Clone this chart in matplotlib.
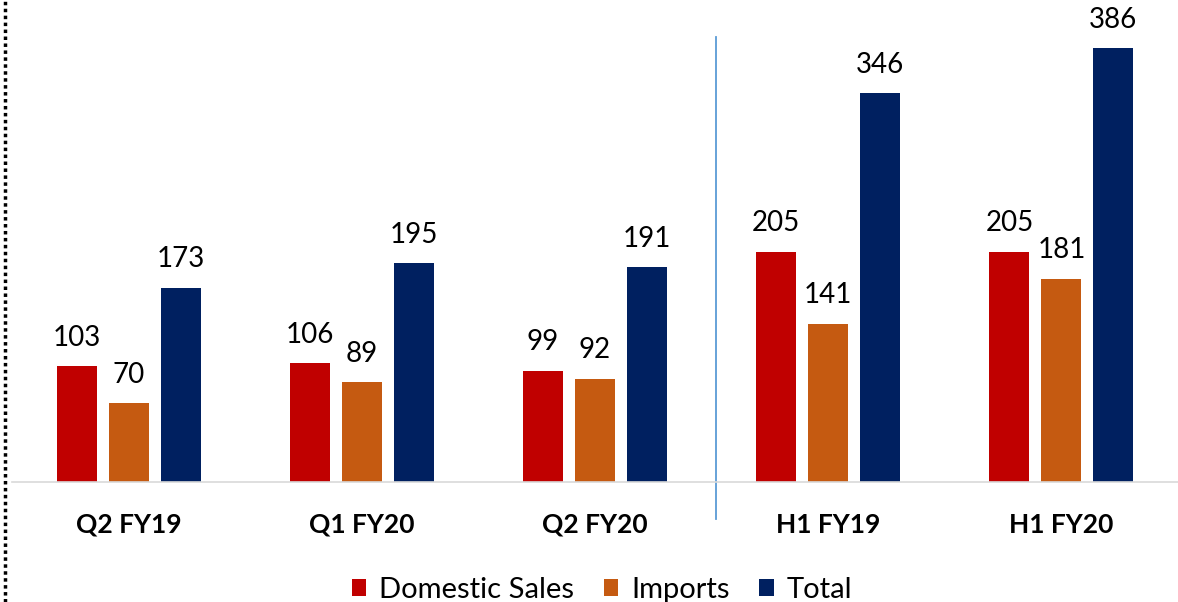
import matplotlib
matplotlib.use("Agg")
import matplotlib.pyplot as plt
from matplotlib.lines import Line2D
import numpy as np

categories = ["Q2 FY19", "Q1 FY20", "Q2 FY20", "H1 FY19", "H1 FY20"]
domestic = [103, 106, 99, 205, 205]
imports = [70, 89, 92, 141, 181]
total = [173, 195, 191, 346, 386]
series_names = ["Domestic Sales", "Imports", "Total"]
colors = ["#C00000", "#C55A11", "#002060"]

plt.rcParams["font.family"] = ["Lato", "DejaVu Sans"]

fig = plt.figure(figsize=(11.78, 6.02), dpi=100)
ax = fig.add_axes([12 / 1178, 1 - 482 / 602, 1 - 12 / 1178, 482 / 602])

x = np.arange(len(categories))
w = 0.172
step = 0.223
for i, (vals, name, c) in enumerate(zip([domestic, imports, total], series_names, colors)):
    bars = ax.bar(x + (i - 1) * step, vals, w, color=c, label=name)
    for b, v in zip(bars, vals):
        ax.annotate(str(v), (b.get_x() + b.get_width() / 2, v), xytext=(0, 11),
                    textcoords="offset points", ha="center", va="bottom",
                    fontsize=20, color="#000000")

ax.set_xlim(-0.5, len(categories) - 0.5)
ax.set_ylim(0, 428.8)
ax.set_xticks(x)
ax.set_xticklabels(categories, fontsize=19, fontweight="bold")
ax.tick_params(axis="x", length=0, pad=22)
ax.set_yticks([])
for s in ["top", "right", "left"]:
    ax.spines[s].set_visible(False)
ax.spines["bottom"].set_color("#D9D9D9")
ax.spines["bottom"].set_linewidth(1.2)

# separator between quarters and half-years
ax.plot([2.52, 2.52], [-33, 396], color="#5B9BD5", lw=1.3, clip_on=False)

# dotted frame line at left edge
fig.add_artist(Line2D([5 / 1178, 5 / 1178], [0, 1], transform=fig.transFigure,
                      color="black", lw=2.5, linestyle=(0, (1, 1))))

fig.legend(loc="center", bbox_to_anchor=(602 / 1178, 1 - 590 / 602), ncol=3,
           frameon=False, fontsize=21, handlelength=0.5, handleheight=0.5,
           handletextpad=0.45, columnspacing=1.0)

fig.savefig("out.png", dpi=100)
